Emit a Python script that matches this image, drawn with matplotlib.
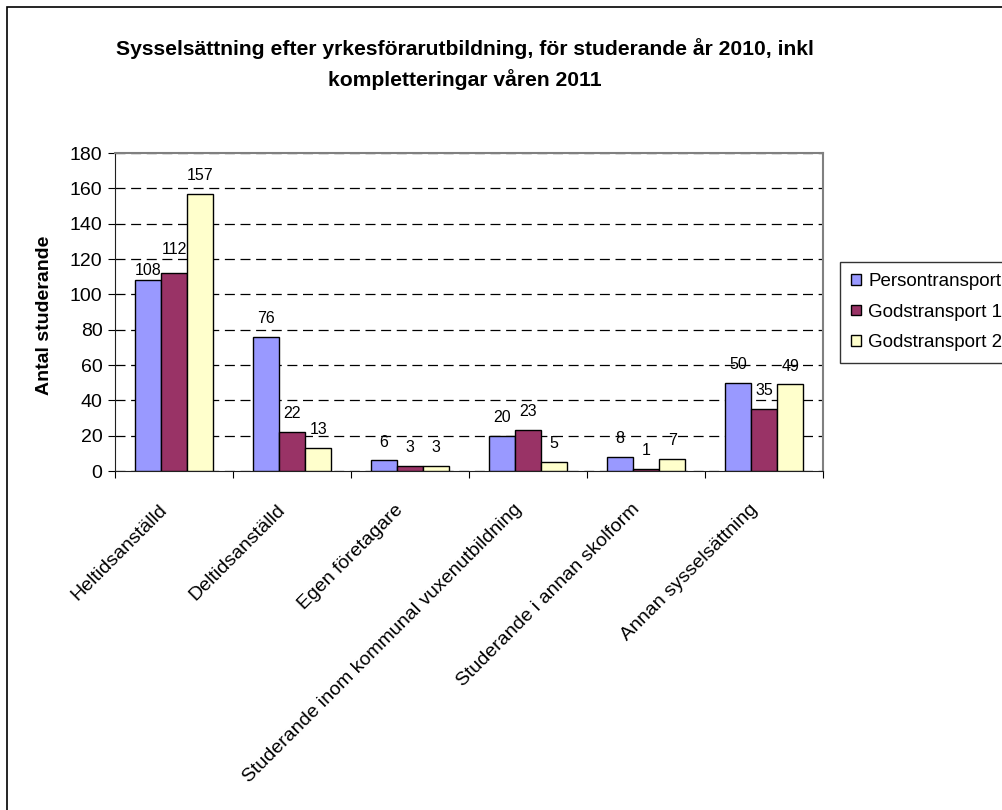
import numpy as np
import matplotlib
matplotlib.use('Agg')
import matplotlib.pyplot as plt
from matplotlib.patches import Rectangle
from matplotlib.transforms import ScaledTranslation

plt.rcParams['font.family'] = ['Liberation Sans', 'DejaVu Sans']

categories = ['Heltidsanställd', 'Deltidsanställd', 'Egen företagare',
              'Studerande inom kommunal vuxenutbildning',
              'Studerande i annan skolform', 'Annan sysselsättning']
series = ['Persontransport', 'Godstransport 1', 'Godstransport 2']
persontransport = [108, 76, 6, 20, 8, 50]
godstransport1 = [112, 22, 3, 23, 1, 35]
godstransport2 = [157, 13, 3, 5, 7, 49]
colors = ['#9999ff', '#993366', '#ffffcc']

fig = plt.figure(figsize=(10.03, 8.10), dpi=100)
fig.patches.append(Rectangle((7 / 1003, -0.1), 2, 1.1 - 7 / 810, transform=fig.transFigure,
                             fill=False, edgecolor='black', linewidth=1.2))

ax = fig.add_axes([115 / 1003, 1 - 471 / 810, (823 - 115) / 1003, (471 - 153) / 810])

x = np.arange(len(categories))
w = 1 / 4.5
for i, (vals, name) in enumerate(zip([persontransport, godstransport1, godstransport2], series)):
    bars = ax.bar(x + (i - 1) * w, vals, w, color=colors[i], edgecolor='black',
                  linewidth=1, label=name, zorder=3)
    for j, (b, v) in enumerate(zip(bars, vals)):
        off = 10
        # first group labels were nudged apart in the original
        if j == 0 and i == 0:
            off = 4
        elif j == 0 and i == 1:
            off = 14
        ax.annotate(str(v), (b.get_x() + b.get_width() / 2, v), xytext=(0, off),
                    textcoords='offset points', ha='center', va='baseline',
                    fontsize=11.5, zorder=4)

ax.set_xlim(-0.5, len(categories) - 0.5)
ax.set_ylim(0, 180)
ax.set_yticks(np.arange(0, 181, 20))
ax.set_xticks(np.arange(-0.5, len(categories), 1))
ax.set_xticklabels([])
ax.tick_params(axis='x', which='major', length=5, direction='out')
ax.tick_params(axis='y', length=5, direction='out', labelsize=14, pad=4)
ax.yaxis.grid(True, linestyle=(0, (8, 4.5)), color='black', linewidth=0.9, zorder=0)

# category labels, rotated, ending just left of the category centre
lab_tr = ax.get_xaxis_transform() + ScaledTranslation(-15 / 100, -30 / 100, fig.dpi_scale_trans)
for xi, cat in zip(x, categories):
    ax.text(xi, 0, cat, transform=lab_tr, rotation=45, ha='right', va='top',
            rotation_mode='anchor', fontsize=14)

for s in ['top', 'right']:
    ax.spines[s].set_color('#808080')
    ax.spines[s].set_linewidth(1.5)
ax.spines['left'].set_color('#202020')
ax.spines['bottom'].set_color('#202020')

ax.set_ylabel('Antal studerande', fontsize=14, fontweight='bold')
ax.yaxis.set_label_coords(53 / 1003, 1 - 315 / 810, transform=fig.transFigure)

fig.text(465 / 1003, 1 - 64 / 810,
         'Sysselsättning efter yrkesförarutbildning, för studerande år 2010, inkl\nkompletteringar våren 2011',
         ha='center', va='center', fontsize=15.2, fontweight='bold', linespacing=1.55)

leg = fig.legend(loc='upper left', bbox_to_anchor=(840 / 1003, 1 - 262 / 810),
                 frameon=True, fancybox=False, edgecolor='black', fontsize=13.5,
                 handlelength=0.5, handleheight=0.5, handletextpad=0.4,
                 labelspacing=0.72, borderpad=0.6, borderaxespad=0)
leg.get_frame().set_linewidth(1)

fig.savefig('out.png', dpi=100)
